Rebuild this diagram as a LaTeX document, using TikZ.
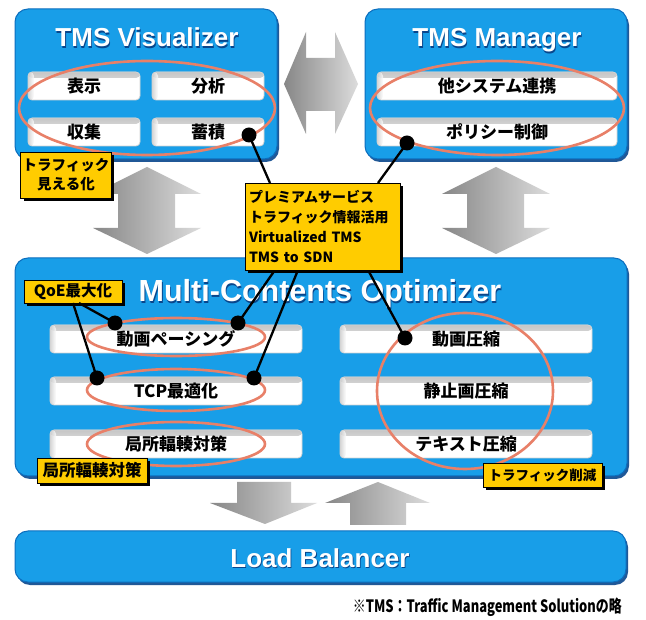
\documentclass[tikz,border=0pt]{standalone}
\usepackage{fontspec}
\setmainfont{Liberation Sans}
\newfontfamily\jp{Noto Sans CJK JP}
\usetikzlibrary{shadows}
\definecolor{tmsblue}{RGB}{24,158,232}
\definecolor{tmsedge}{RGB}{12,110,190}
\definecolor{tmsshadow}{RGB}{8,70,140}
\definecolor{ringc}{RGB}{232,128,104}
\definecolor{yel}{RGB}{255,204,0}
\definecolor{arrdark}{RGB}{135,135,135}
\definecolor{arrlight}{RGB}{220,220,220}
\tikzset{
  bluebox/.style={fill=tmsblue, draw=tmsedge, line width=1pt, rounded corners=13pt,
    drop shadow={shadow xshift=2pt, shadow yshift=-3pt, fill=tmsshadow, opacity=0.9}},
  cell/.style={fill=white, draw=gray!35, line width=0.8pt, rounded corners=4pt, inner sep=0pt,
    minimum height=28pt, font=\jp\bfseries\fontsize{17}{20}\selectfont,
    path picture={
      \shade[top color=gray!45, bottom color=white]
        (path picture bounding box.north west) rectangle ([yshift=-6pt]path picture bounding box.north east);
      \shade[left color=gray!40, right color=white, opacity=0.8]
        (path picture bounding box.north west) rectangle ([xshift=6pt]path picture bounding box.south west);
    }},
  ring/.style={draw=ringc, line width=2.6pt},
  dot/.style={circle, fill=black, minimum size=15pt, inner sep=0pt},
  link/.style={line width=2.3pt, black},
  ylab/.style={fill=yel, draw=black, line width=0.6pt, inner sep=2pt,
    drop shadow={shadow xshift=3pt, shadow yshift=-3pt, fill=black, opacity=1}},
  titleshadow/.style={text=tmsshadow, font=\bfseries\fontsize{26}{30}\selectfont},
  titletext/.style={text=white, font=\bfseries\fontsize{26}{30}\selectfont},
  blockarrow/.style={left color=arrdark, right color=arrlight},
}
\begin{document}
\begin{tikzpicture}[x=1pt,y=-1pt]
\useasboundingbox[fill=white] (0,0) rectangle (646,620);

% ---- blue blocks
\node[bluebox, minimum width=262pt, minimum height=150pt] (vis) at (146,84) {};
\node[bluebox, minimum width=262pt, minimum height=150pt] (man) at (496,84) {};
\node[bluebox, minimum width=612pt, minimum height=218pt] (opt) at (321,367) {};
\node[bluebox, minimum width=611pt, minimum height=51pt] (lb) at (320.5,556.5) {};

% ---- grey block arrows
\shade[blockarrow] (284,84) -- (306,32) -- (306,58) -- (335,58) -- (335,32) -- (358,84)
  -- (335,134) -- (335,111) -- (306,111) -- (306,134) -- cycle;
\shade[blockarrow] (147,167) -- (201,194) -- (175,194) -- (175,228) -- (201,228) -- (147,254)
  -- (93,228) -- (118,228) -- (118,194) -- (93,194) -- cycle;
\shade[blockarrow] (496,167) -- (550,194) -- (524,194) -- (524,228) -- (550,228) -- (496,254)
  -- (442,228) -- (467,228) -- (467,194) -- (442,194) -- cycle;
\shade[blockarrow] (237,482) -- (291,482) -- (291,503) -- (317,503) -- (265,524)
  -- (210,503) -- (237,503) -- cycle;
\shade[blockarrow] (378,482) -- (430,503) -- (406,503) -- (406,525) -- (350,525)
  -- (350,503) -- (325,503) -- cycle;

% ---- titles
\node[titleshadow, anchor=base] (visT0) at (147.8,48.2) {TMS Visualizer};
\node[titletext, anchor=base] (visT) at (147,47) {TMS Visualizer};
\node[titleshadow, anchor=base] (manT0) at (497.8,48.2) {TMS Manager};
\node[titletext, anchor=base] (manT) at (497,47) {TMS Manager};
\node[titleshadow, font=\bfseries\fontsize{30.5}{34}\selectfont, anchor=base] (optT0) at (320.8,303.2) {Multi-Contents Optimizer};
\node[titletext, font=\bfseries\fontsize{30.5}{34}\selectfont, anchor=base] (optT) at (320,302) {Multi-Contents Optimizer};
\node[titleshadow, anchor=base] (lbT0) at (320.8,568.2) {Load Balancer};
\node[titletext, anchor=base] (lbT) at (320,567) {Load Balancer};

% ---- cells: visualizer
\node[cell, minimum width=112pt] (hyoji) at (84,86) {表示};
\node[cell, minimum width=112pt] (bunseki) at (208,86) {分析};
\node[cell, minimum width=112pt] (shushu) at (84,132) {収集};
\node[cell, minimum width=112pt] (chikuseki) at (208,132) {蓄積};
% ---- cells: manager
\node[cell, minimum width=240pt] (renkei) at (497,86) {他システム連携};
\node[cell, minimum width=240pt] (policy) at (497,132) {ポリシー制御};
% ---- cells: optimizer
\node[cell, minimum width=252pt] (pacing) at (176,339) {動画ペーシング};
\node[cell, minimum width=252pt] (tcp) at (176,391) {TCP最適化};
\node[cell, minimum width=252pt] (kyokusho) at (176,444) {局所輻輳対策};
\node[cell, minimum width=252pt] (douga) at (466,339) {動画圧縮};
\node[cell, minimum width=252pt] (seishi) at (466,391) {静止画圧縮};
\node[cell, minimum width=252pt] (text) at (466,444) {テキスト圧縮};

% ---- rings
\draw[ring] (147,108) ellipse [x radius=128, y radius=47];
\draw[ring] (497,108) ellipse [x radius=127, y radius=47];
\draw[ring] (176,337) ellipse [x radius=89, y radius=19];
\draw[ring] (176,390) ellipse [x radius=89, y radius=21];
\draw[ring] (176,444) ellipse [x radius=89, y radius=22];
\draw[ring] (465,391) ellipse [x radius=88, y radius=78];

% ---- yellow labels
\node[ylab, minimum width=86pt, minimum height=46pt, align=center,
  font=\jp\bfseries\fontsize{14.5}{19}\selectfont] (mieruka) at (66,175) {トラフィック\\見える化};
\node[ylab, minimum width=98pt, minimum height=23pt,
  font=\jp\bfseries\fontsize{15.5}{18}\selectfont] (qoe) at (73,291.5) {QoE最大化};
\node[ylab, minimum width=110pt, minimum height=25pt,
  font=\jp\bfseries\fontsize{16.5}{18}\selectfont] (kyokuL) at (92,470.5) {局所輻輳対策};
\node[ylab, minimum width=119pt, minimum height=24pt,
  font=\jp\bfseries\fontsize{13.5}{16}\selectfont] (sakugen) at (542.5,475) {トラフィック削減};

% ---- dots
\node[dot] (dChiku) at (249,135) {};
\node[dot] (dPolicy) at (407,143) {};
\node[dot] (dPacL) at (115,323) {};
\node[dot] (dPacR) at (238,323) {};
\node[dot] (dTcpL) at (97,378) {};
\node[dot] (dTcpR) at (254,378) {};
\node[dot] (dDouga) at (405,338) {};

% ---- connector anchors
\coordinate (p1) at (270,183);
\coordinate (p2) at (378,183);
\coordinate (p3) at (275,270);
\coordinate (p4) at (298,270);
\coordinate (p5) at (368,270);
\coordinate (q1) at (79,303);
\coordinate (q2) at (73,303);

\draw[link] (p1) -- (dChiku.center);
\draw[link] (p2) -- (dPolicy.center);
\draw[link] (p3) -- (dPacR.center);
\draw[link] (p4) -- (dTcpR.center);
\draw[link] (p5) -- (dDouga.center);
\draw[link] (q1) -- (dPacL.center);
\draw[link] (q2) -- (dTcpL.center);

% ---- central label
\node[ylab, minimum width=155pt, minimum height=87pt, text width=147pt, inner sep=4pt, align=left,
  font=\jp\bfseries\fontsize{14}{20}\selectfont] (prem) at (322.5,226.5)
  {プレミアムサービス\\トラフィック情報活用\\Virtualized TMS\\TMS to SDN};

% ---- footnote
\node[anchor=base east, inner sep=0pt, font=\jp\bfseries\fontsize{17}{20}\selectfont] (note) at (622,612)
  {\scalebox{0.76}[1]{※TMS：Traffic Management Solutionの略}};
\end{tikzpicture}
\end{document}
